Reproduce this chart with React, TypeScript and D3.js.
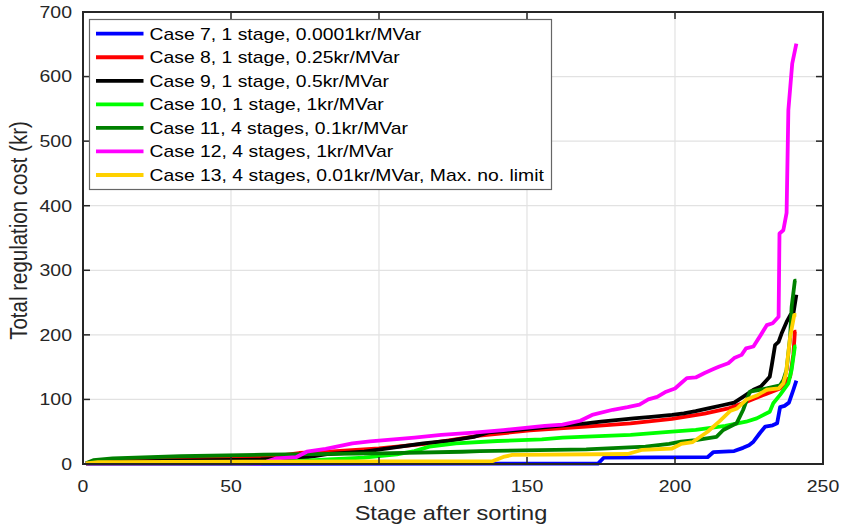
import React from "react";
import * as d3 from "d3";

const xTicks = [0, 50, 100, 150, 200, 250];
const yTicks = [0, 100, 200, 300, 400, 500, 600, 700];

const legendLabels = [
  "Case 7, 1 stage, 0.0001kr/MVar",
  "Case 8, 1 stage, 0.25kr/MVar",
  "Case 9, 1 stage, 0.5kr/MVar",
  "Case 10, 1 stage, 1kr/MVar",
  "Case 11, 4 stages, 0.1kr/MVar",
  "Case 12, 4 stages, 1kr/MVar",
  "Case 13, 4 stages, 0.01kr/MVar, Max. no. limit",
];
const seriesColors = ["#0000ff", "#ff0000", "#000000", "#00ff00", "#008000", "#ff00ff", "#ffd100"];

// [stage, cost]
const case7: [number, number][] = [
  [1, 0.3], [174, 0.5], [176, 10], [211, 10.5], [213, 18.5], [220, 20], [223, 25], [225, 29],
  [226.5, 34.5], [228.7, 48], [230.5, 58], [233, 60], [234.5, 63], [235.5, 88], [237, 90],
  [238.5, 95], [240, 115], [241, 129],
];
const case8: [number, number][] = [
  [1, 1], [3.5, 3.6], [20, 5.5], [33, 7], [61, 10], [73, 17], [83, 19], [100, 24], [117, 32],
  [134, 44], [151, 52], [170, 58], [185, 63], [199, 70], [210, 78], [218, 86], [224, 96],
  [231, 109], [235.5, 117], [238.9, 135], [240, 170], [240.5, 205], [241, 205],
];
const case9: [number, number][] = [
  [1, 1], [10, 3], [30, 5], [60, 7], [75, 10], [83, 15.5], [95, 19], [106, 26], [115, 32],
  [123, 35.6], [132, 42], [137, 49], [147, 52.7], [158, 57.8], [170, 63], [175, 65.5],
  [186, 70.7], [192, 73], [199, 76], [203, 78.5], [207, 82], [212, 87], [216, 91], [220, 95],
  [223, 104], [226.5, 115], [229, 120], [230.4, 127], [232, 135], [232.7, 153], [233.8, 184],
  [235, 189], [236, 202], [237.7, 220], [239, 231], [240, 233], [241, 262],
];
const case10: [number, number][] = [
  [1, 0.5], [55, 1], [62, 2], [70, 4], [83, 7], [95, 10], [106, 15], [112, 20], [117, 27],
  [126, 32], [140, 35.6], [155, 38], [162, 41], [168, 42], [185, 45], [199, 50], [207, 52.7],
  [217, 59], [224, 65.5], [227.6, 70.7], [232, 81], [233.2, 94], [235.5, 107], [238.3, 125],
  [239.4, 146], [240.5, 182], [241, 182],
];
const case11: [number, number][] = [
  [1, 1], [3.5, 6], [10, 8.8], [33, 12], [61, 14.5], [100, 16.5], [128, 19], [134, 20],
  [170, 22.7], [190, 27], [198, 31], [202, 34.5], [207, 37], [214, 42], [216.3, 52.7],
  [220.8, 63], [223, 83.6], [225.3, 112], [231, 117], [235.5, 122], [236.6, 130], [237.7, 146],
  [238.9, 197], [239.4, 243], [240.5, 284], [241, 284],
];
const case12: [number, number][] = [
  [1, 0.5], [60, 1], [62, 3.6], [65.4, 8.8], [72, 10.5], [75.6, 19], [82, 23.5], [91, 32],
  [97, 35], [105, 38], [112, 41], [121, 45], [132, 48.5], [142, 52.5], [156, 59], [162, 61],
  [168, 67], [172, 76], [179, 84], [184, 88], [188, 92], [191, 100], [194, 104], [197, 112],
  [200, 117], [202, 125], [204, 133], [207, 134], [210, 141], [213, 147], [215, 151],
  [218, 156], [220, 164], [222.5, 169], [224, 179], [226.5, 182], [229, 200], [231, 215],
  [233, 218], [235, 228], [235.3, 357], [236.6, 362], [237.7, 389], [238.3, 548],
  [239.6, 620], [241, 651],
];
const case13: [number, number][] = [
  [1, 1], [5, 3], [55, 3.6], [138.5, 4.6], [142, 11], [145, 14], [184, 15.5], [189, 22],
  [199, 24], [202, 31], [206, 34], [211, 50], [215, 66], [218.6, 82], [221, 86], [224.2, 100],
  [227.6, 106], [231, 115], [235, 117], [236.6, 125], [237.5, 140], [238.9, 197], [240.3, 231],
  [241, 231],
];
const allSeries = [case7, case8, case9, case10, case11, case12, case13];

const W = 843;
const H = 526;
const M = { left: 83, right: 823, top: 12, bottom: 464 };
const SX = 1.18;
const SXL = 1.21;
const FONT = "'Liberation Sans', Arial, Helvetica, sans-serif";

export default function App() {
  const x = d3.scaleLinear().domain([0, 250]).range([M.left, M.right]);
  const y = d3.scaleLinear().domain([0, 700]).range([M.bottom, M.top]);
  const line = d3
    .line<[number, number]>()
    .x((d) => x(d[0]))
    .y((d) => y(d[1]));
  const tickLen = 7;
  const axisColor = "#262626";
  const legX = 89.5;
  const legY = 19.5;
  const legW = 462;
  const legH = 170;
  const rowY0 = 33.7;
  const rowStep = 23.55;

  return (
    <svg
      width={W}
      height={H}
      style={{ position: "absolute", left: 0, top: 0, background: "#fff" }}
      fontFamily={FONT}
    >
      <rect x={0} y={0} width={W} height={H} fill="#fff" />
      {xTicks.map((t) => (
        <line key={"gx" + t} x1={x(t)} x2={x(t)} y1={M.top} y2={M.bottom} stroke="#e2e2e2" strokeWidth={1.2} />
      ))}
      {yTicks.map((t) => (
        <line key={"gy" + t} x1={M.left} x2={M.right} y1={y(t)} y2={y(t)} stroke="#e2e2e2" strokeWidth={1.2} />
      ))}
      {allSeries.map((s, i) => (
        <path
          key={"s" + i}
          d={line(s) || ""}
          fill="none"
          stroke={seriesColors[i]}
          strokeWidth={3.8}
          strokeLinejoin="round"
        />
      ))}
      {xTicks.map((t) => (
        <g key={"tx" + t}>
          <line x1={x(t)} x2={x(t)} y1={M.bottom} y2={M.bottom - tickLen} stroke={axisColor} strokeWidth={1.5} />
          <line x1={x(t)} x2={x(t)} y1={M.top} y2={M.top + tickLen} stroke={axisColor} strokeWidth={1.5} />
          <text
            transform={`translate(${x(t)},491.5) scale(${SX},1)`}
            textAnchor="middle"
            fontSize={16.5}
            fill="#262626"
          >
            {t}
          </text>
        </g>
      ))}
      {yTicks.map((t) => (
        <g key={"ty" + t}>
          <line x1={M.left} x2={M.left + tickLen} y1={y(t)} y2={y(t)} stroke={axisColor} strokeWidth={1.5} />
          <line x1={M.right} x2={M.right - tickLen} y1={y(t)} y2={y(t)} stroke={axisColor} strokeWidth={1.5} />
          <text
            transform={`translate(72,${y(t) + 5.9}) scale(${SX},1)`}
            textAnchor="end"
            fontSize={16.5}
            fill="#262626"
          >
            {t}
          </text>
        </g>
      ))}
      <rect
        x={M.left}
        y={M.top}
        width={M.right - M.left}
        height={M.bottom - M.top}
        fill="none"
        stroke={axisColor}
        strokeWidth={2}
      />
      <text
        transform={`translate(451,520) scale(${SX},1)`}
        textAnchor="middle"
        fontSize={20}
        fill="#262626"
      >
        Stage after sorting
      </text>
      <text
        transform={`translate(27,230.5) scale(${SX},1) rotate(-90)`}
        textAnchor="middle"
        fontSize={20.5}
        fill="#262626"
      >
        Total regulation cost (kr)
      </text>
      <rect x={legX} y={legY} width={legW} height={legH} fill="#fff" stroke="#666" strokeWidth={1.2} />
      {legendLabels.map((lab, i) => {
        const cy = rowY0 + i * rowStep;
        return (
          <g key={"lg" + i}>
            <line x1={96} x2={143.5} y1={cy} y2={cy} stroke={seriesColors[i]} strokeWidth={3.8} />
            <text
              transform={`translate(149.5,${cy + 5.8}) scale(${SXL},1)`}
              fontSize={16}
              fill="#000"
            >
              {lab}
            </text>
          </g>
        );
      })}
    </svg>
  );
}
